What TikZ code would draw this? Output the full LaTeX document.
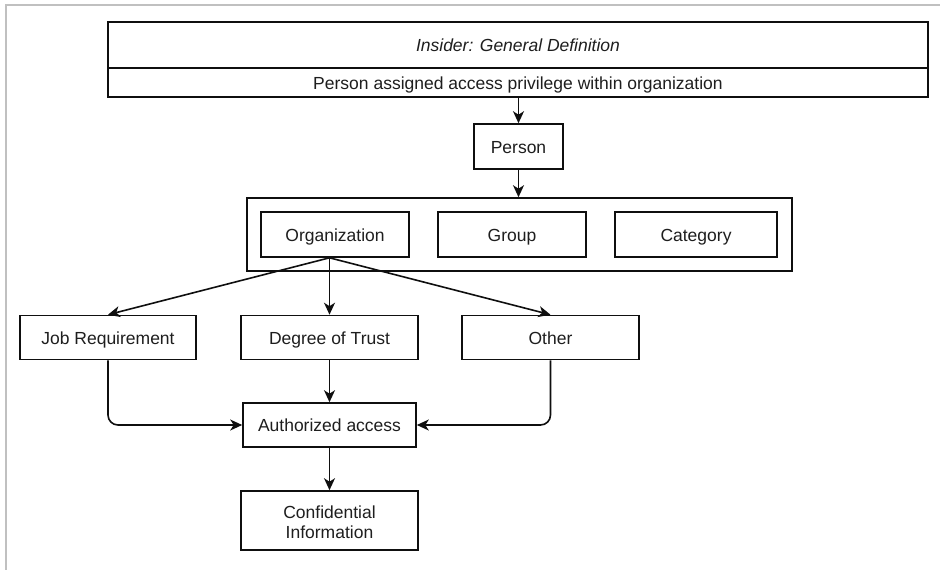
\documentclass[tikz,border=0pt]{standalone}
\usepackage{fontspec}
\setmainfont{Liberation Sans}
\usetikzlibrary{arrows.meta}
\definecolor{ink}{RGB}{15,15,15}
\definecolor{txt}{RGB}{30,30,30}
\definecolor{framegray}{RGB}{192,192,192}
\begin{document}
\begin{tikzpicture}[x=1pt,y=-1pt,
  basebox/.style={draw=ink, line width=1.6pt, fill=white, rectangle, inner sep=0pt,
              align=center, text=txt, font=\fontsize{17.5}{20.5}\selectfont},
  box/.style={basebox, text height=14pt, text depth=1pt},
  link/.style={draw=ink, line width=1.6pt,
               -{Stealth[length=12pt,width=11pt,inset=3.5pt]}},
  pageframe/.style={draw=framegray, line width=2.5pt}
]
\useasboundingbox (0,0) rectangle (940,570);
\fill[white] (0,0) rectangle (940,570);
\draw[pageframe] (6,570) -- (6,5) -- (940,5);

% definition header
\node[box, minimum width=820pt, minimum height=46pt,
      font=\fontsize{17.5}{20.5}\selectfont\itshape] (title) at (518,45) {Insider: General Definition};
\node[box, minimum width=820pt, minimum height=29pt] (sub) at (518,82.5)
  {Person assigned access privilege within organization};

\node[box, minimum width=89pt, minimum height=45pt] (person) at (518.5,146.5) {Person};

% grouping container
\node[box, minimum width=545pt, minimum height=73pt] (cont) at (519.5,234.5) {};
\node[box, minimum width=148pt, minimum height=45pt] (org) at (335,234.5) {Organization};
\node[box, minimum width=148pt, minimum height=45pt] (group) at (512,234.5) {Group};
\node[box, minimum width=162pt, minimum height=45pt] (cat) at (696,234.5) {Category};

% criteria
\node[box, minimum width=176pt, minimum height=44pt] (job) at (108,337.5) {Job Requirement};
\node[box, minimum width=177pt, minimum height=44pt] (deg) at (329.5,337.5) {Degree of Trust};
\node[box, minimum width=177pt, minimum height=44pt] (other) at (550.5,337.5) {Other};

\node[box, minimum width=173pt, minimum height=44pt] (auth) at (329.5,425) {Authorized access};
\node[basebox, minimum width=177pt, minimum height=59pt] (conf) at (329.5,520.5) {};
\node[font=\fontsize{17.5}{20.5}\selectfont, text=txt, align=center, inner sep=0pt, yshift=-1.5pt]
  (conftext) at (conf.center) {Confidential\\Information};

% connectors
\draw[link] (person.north |- sub.south) -- (person.north);
\draw[link] (person.south) -- (person.south |- cont.north);
\coordinate (fork) at (deg.north |- org.south);
\draw[link] (fork) -- (job.north);
\draw[link] (fork) -- (deg.north);
\draw[link] (fork) -- (other.north);
\draw[link] (deg.south) -- (auth.north);
\draw[link, rounded corners=10pt] (job.south) |- (auth.west);
\draw[link, rounded corners=10pt] (other.south) |- (auth.east);
\draw[link] (auth.south) -- (conf.north);
\end{tikzpicture}
\end{document}
